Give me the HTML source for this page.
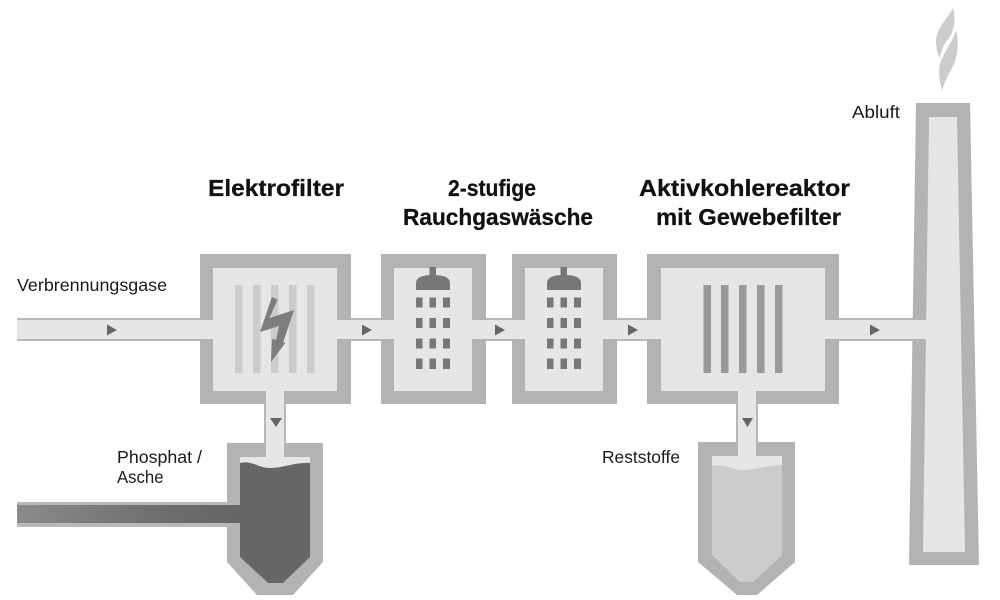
<!DOCTYPE html>
<html><head><meta charset="utf-8"><style>
html,body{margin:0;padding:0;background:#fff;}
svg{display:block;}
text{font-family:"Liberation Sans",sans-serif;fill:#1a1a1a;}
.t{font-weight:bold;font-size:23px;fill:#111;stroke:#111;stroke-width:0.25px;}
.s{font-size:17.5px;}
</style></head><body>
<svg width="1000" height="600" viewBox="0 0 1000 600" xmlns="http://www.w3.org/2000/svg">
<defs>
<linearGradient id="dg" x1="17" y1="0" x2="240" y2="0" gradientUnits="userSpaceOnUse">
<stop offset="0" stop-color="#8a8a8a"/><stop offset="0.7" stop-color="#6c6c6c"/><stop offset="1" stop-color="#666"/>
</linearGradient>
</defs>
<!-- main pipe border -->
<rect x="17" y="318" width="903" height="23" fill="#b8b8b8"/>
<!-- chimney -->
<polygon points="916,103 970,103 979,565 909,565" fill="#b3b3b3"/>
<polygon points="929,117 957,117 965,552 923,552" fill="#e6e6e6"/>
<!-- boxes -->
<rect x="200" y="254" width="151" height="150" fill="#b3b3b3"/>
<rect x="213" y="268" width="124" height="123" fill="#e6e6e6"/>
<rect x="381" y="254" width="105" height="150" fill="#b3b3b3"/>
<rect x="394" y="268" width="78" height="123" fill="#e6e6e6"/>
<rect x="512" y="254" width="105" height="150" fill="#b3b3b3"/>
<rect x="525" y="268" width="78" height="123" fill="#e6e6e6"/>
<rect x="647" y="254" width="192" height="150" fill="#b3b3b3"/>
<rect x="661" y="268" width="164" height="123" fill="#e6e6e6"/>
<!-- vessel 1 -->
<polygon points="227,443 323,443 323,562 293,595 257,595 227,562" fill="#b3b3b3"/>
<polygon points="240,457 310,457 310,557 283,583 268,583 240,557" fill="#e6e6e6"/>
<path d="M240,463 C252,460 258,468 270,468 C283,468 296,462 310,463 L310,557 L283,583 L268,583 L240,557 Z" fill="#666"/>
<!-- vessel 2 -->
<polygon points="698,442 795,442 795,562 757,595 737,595 698,562" fill="#b3b3b3"/>
<polygon points="712,456 782,456 782,555 753,582 740,582 712,555" fill="#e6e6e6"/>
<path d="M712,466 C724,463 734,471 745,470 C757,469 770,465 782,465 L782,555 L753,582 L740,582 L712,555 Z" fill="#ccc"/>
<!-- vertical pipes -->
<rect x="264" y="400" width="22" height="45" fill="#b8b8b8"/>
<rect x="266" y="388" width="18" height="70" fill="#e6e6e6"/>
<rect x="736" y="400" width="22" height="44" fill="#b8b8b8"/>
<rect x="738" y="388" width="18" height="70" fill="#e6e6e6"/>
<!-- main pipe fill -->
<rect x="17" y="320" width="910" height="19" fill="#e6e6e6"/>
<!-- dark pipe -->
<rect x="17" y="502" width="215" height="25" fill="#b8b8b8"/>
<rect x="17" y="505" width="225" height="18" fill="url(#dg)"/>
<!-- electrofilter bars -->
<g fill="#cccccc">
<rect x="235" y="285" width="7.5" height="88"/>
<rect x="253" y="285" width="7.5" height="88"/>
<rect x="271" y="285" width="7.5" height="88"/>
<rect x="289" y="285" width="7.5" height="88"/>
<rect x="307" y="285" width="7.5" height="88"/>
</g>
<polygon points="272,297 277.5,299.5 269.5,318 294,310 283,343 286,342 271,362 272,339 276,340 279,326 260,332" fill="#7d7d7d"/>
<!-- showers -->
<g fill="#777">
<rect x="429.5" y="267" width="6.5" height="9"/>
<path d="M416,290 L416,283 Q416,275 433,275 Q450,275 450,283 L450,290 Z"/>
<rect x="416" y="297.5" width="6.5" height="10"/><rect x="429.5" y="297.5" width="6.5" height="10"/><rect x="443" y="297.5" width="7" height="10"/>
<rect x="416" y="318" width="6.5" height="10"/><rect x="429.5" y="318" width="6.5" height="10"/><rect x="443" y="318" width="7" height="10"/>
<rect x="416" y="338.5" width="6.5" height="10"/><rect x="429.5" y="338.5" width="6.5" height="10"/><rect x="443" y="338.5" width="7" height="10"/>
<rect x="416" y="358.5" width="6.5" height="10.5"/><rect x="429.5" y="358.5" width="6.5" height="10.5"/><rect x="443" y="358.5" width="7" height="10.5"/>
<g transform="translate(131,0)">
<rect x="429.5" y="267" width="6.5" height="9"/>
<path d="M416,290 L416,283 Q416,275 433,275 Q450,275 450,283 L450,290 Z"/>
<rect x="416" y="297.5" width="6.5" height="10"/><rect x="429.5" y="297.5" width="6.5" height="10"/><rect x="443" y="297.5" width="7" height="10"/>
<rect x="416" y="318" width="6.5" height="10"/><rect x="429.5" y="318" width="6.5" height="10"/><rect x="443" y="318" width="7" height="10"/>
<rect x="416" y="338.5" width="6.5" height="10"/><rect x="429.5" y="338.5" width="6.5" height="10"/><rect x="443" y="338.5" width="7" height="10"/>
<rect x="416" y="358.5" width="6.5" height="10.5"/><rect x="429.5" y="358.5" width="6.5" height="10.5"/><rect x="443" y="358.5" width="7" height="10.5"/>
</g>
</g>
<!-- aktivkohle bars -->
<g fill="#999">
<rect x="703.5" y="285" width="7.5" height="88"/>
<rect x="721" y="285" width="7.5" height="88"/>
<rect x="739" y="285" width="7.5" height="88"/>
<rect x="757" y="285" width="7.5" height="88"/>
<rect x="775" y="285" width="7.5" height="88"/>
</g>
<!-- arrows -->
<g fill="#666">
<polygon points="107,324.5 117,330 107,335.5"/>
<polygon points="362,324.5 372,330 362,335.5"/>
<polygon points="495,324.5 505,330 495,335.5"/>
<polygon points="628,324.5 638,330 628,335.5"/>
<polygon points="870,324.5 880,330 870,335.5"/>
<polygon points="270,418 282,418 276,427"/>
<polygon points="742,418 753,418 747.5,427"/>
</g>
<!-- smoke -->
<g fill="#cccccc">
<path d="M953,8 C948,18 936,28 936,42 C936,50 938,55 940,58 C941,50 944,44 949,38 C954,31 956,20 953,8 Z"/>
<path d="M956,30 C952,45 940,55 939,70 C939,80 941,86 942,91 C945,80 949,74 953,66 C958,56 959,42 956,30 Z"/>
</g>
<!-- titles -->
<text class="t" x="208" y="196" textLength="136" lengthAdjust="spacingAndGlyphs">Elektrofilter</text>
<text class="t" x="448" y="196" textLength="88" lengthAdjust="spacingAndGlyphs">2-stufige</text>
<text class="t" x="403" y="225" textLength="190" lengthAdjust="spacingAndGlyphs">Rauchgaswäsche</text>
<text class="t" x="639" y="196" textLength="211" lengthAdjust="spacingAndGlyphs">Aktivkohlereaktor</text>
<text class="t" x="656" y="225" textLength="185" lengthAdjust="spacingAndGlyphs">mit Gewebefilter</text>
<!-- labels -->
<text class="s" x="17" y="291" textLength="150" lengthAdjust="spacingAndGlyphs">Verbrennungsgase</text>
<text class="s" x="117" y="463" textLength="85" lengthAdjust="spacingAndGlyphs">Phosphat /</text>
<text class="s" x="117" y="483" textLength="46.5" lengthAdjust="spacingAndGlyphs">Asche</text>
<text class="s" x="602" y="463" textLength="78" lengthAdjust="spacingAndGlyphs">Reststoffe</text>
<text class="s" x="852" y="118" textLength="48" lengthAdjust="spacingAndGlyphs">Abluft</text>
</svg>
</body></html>
